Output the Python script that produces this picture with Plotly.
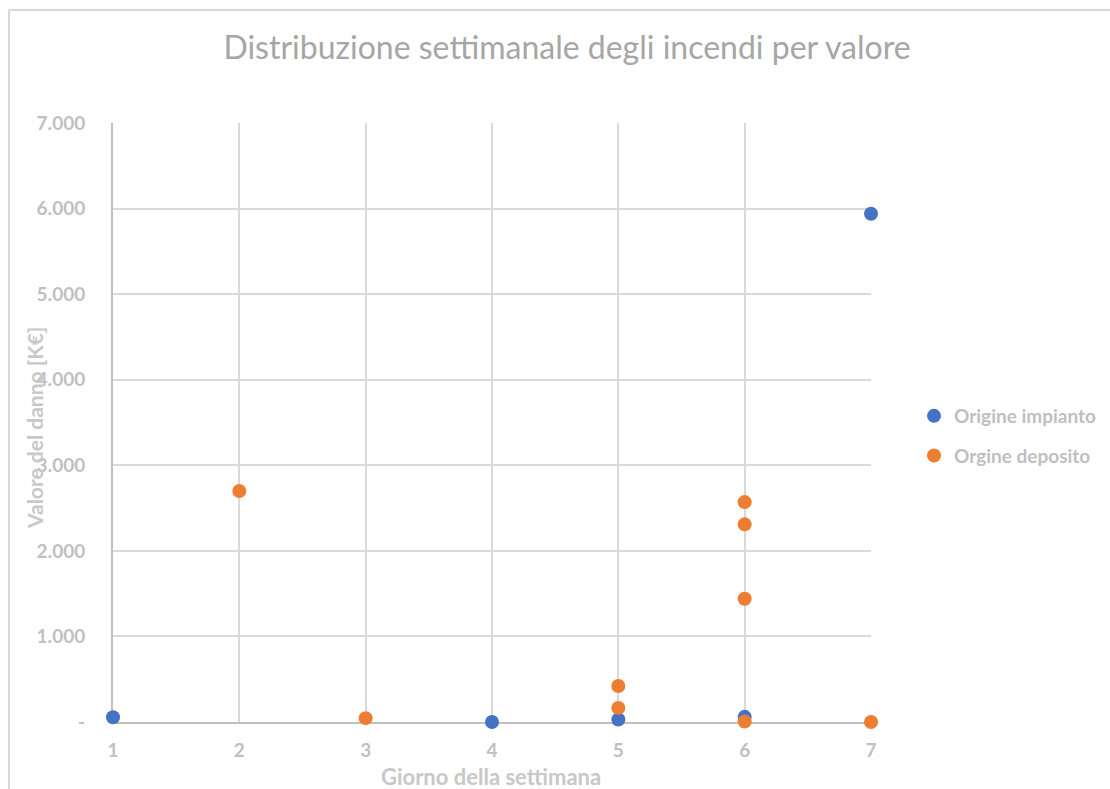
import plotly.graph_objects as go

# Day of week (1-7) and damage value in K€ for each fire
giorni_impianto = [1, 4, 5, 6, 7]
valori_impianto = [55, 0, 30, 60, 5940]

giorni_deposito = [2, 3, 5, 5, 6, 6, 6, 6, 7]
valori_deposito = [2700, 45, 420, 165, 2570, 2310, 1440, 5, 0]

y_tick_vals = [0, 1000, 2000, 3000, 4000, 5000, 6000, 7000]
y_tick_text = ["-", "1.000", "2.000", "3.000", "4.000", "5.000", "6.000", "7.000"]
x_tick_vals = [1, 2, 3, 4, 5, 6, 7]

W, H = 1110, 789
L, R, T, B = 113, 239, 123, 67
PW, PH = W - L - R, H - T - B


def px(x):
    return (x - L) / PW


def py(y):
    return (H - B - y) / PH


FONT = "Lato"
TICK_GREY = "#bfbfbf"
BLUE = "#4472c4"
ORANGE = "#ed7d31"

fig = go.Figure()
fig.add_trace(go.Scatter(
    x=giorni_impianto, y=valori_impianto, mode="markers", name="Origine impianto",
    legendgroup="a", cliponaxis=False,
    marker=dict(color=BLUE, size=14, line=dict(width=0)),
))
fig.add_trace(go.Scatter(
    x=giorni_deposito, y=valori_deposito, mode="markers", name="Orgine deposito",
    legendgroup="b", cliponaxis=False,
    marker=dict(color=ORANGE, size=14, line=dict(width=0)),
))

fig.update_layout(
    width=W, height=H,
    margin=dict(l=L, r=R, t=T, b=B, autoexpand=False),
    paper_bgcolor="white", plot_bgcolor="white",
    font=dict(family=FONT, color=TICK_GREY),
    title=dict(
        text="Distribuzione settimanale degli incendi per valore",
        x=567 / W, xanchor="center", xref="container",
        y=1 - 48 / H, yanchor="middle", yref="container",
        font=dict(family=FONT, size=32, color="#a6a6a6"),
    ),
    xaxis=dict(
        range=[1, 7], tickvals=x_tick_vals, showgrid=True, gridcolor="#d9d9d9", gridwidth=2,
        showline=True, linecolor="#c0c0c0", linewidth=2, zeroline=False,
        ticks="", ticklabelstandoff=10, layer="below traces",
        tickfont=dict(family=FONT, size=19, color=TICK_GREY, weight="bold"),
    ),
    yaxis=dict(
        range=[0, 7000], tickvals=y_tick_vals, ticktext=y_tick_text,
        showgrid=True, gridcolor="#d9d9d9", gridwidth=2,
        showline=True, linecolor="#c0c0c0", linewidth=2, zeroline=False,
        ticks="", ticklabelstandoff=22, layer="below traces",
        tickfont=dict(family=FONT, size=19, color=TICK_GREY, weight="bold"),
    ),
    showlegend=True,
    legend=dict(
        x=px(914), y=py(397), xanchor="left", yanchor="top",
        traceorder="grouped", tracegroupgap=12, itemwidth=30,
        font=dict(family=FONT, size=19, color=TICK_GREY, weight="bold"),
        bgcolor="rgba(0,0,0,0)",
    ),
    annotations=[
        dict(text="Valore del danno [K€]", x=px(34), y=py(428), xref="paper", yref="paper",
             textangle=-90, showarrow=False, xanchor="center", yanchor="middle",
             font=dict(family=FONT, size=21, color="#c8c8c8", weight="bold")),
        dict(text="Giorno della settimana", x=px(491), y=py(776), xref="paper", yref="paper",
             showarrow=False, xanchor="center", yanchor="middle",
             font=dict(family=FONT, size=22, color="#c8c8c8", weight="bold")),
    ],
    shapes=[
        dict(type="line", xref="paper", yref="paper", x0=px(9), x1=px(1115), y0=py(10), y1=py(10),
             line=dict(color="#d9d9d9", width=2)),
        dict(type="line", xref="paper", yref="paper", x0=px(9), x1=px(9), y0=py(10), y1=py(800),
             line=dict(color="#d9d9d9", width=2)),
    ],
)

fig.write_html("out.html")
